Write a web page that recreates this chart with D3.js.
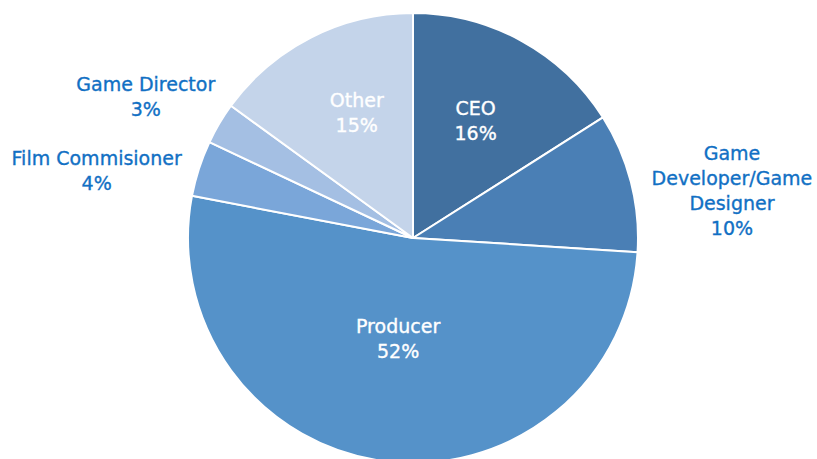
<!DOCTYPE html>
<html>
<head>
<meta charset="utf-8">
<script src="https://cdn.jsdelivr.net/npm/d3@7"></script>
<style>
  html, body { margin: 0; padding: 0; background: #ffffff; }
  svg { display: block; }
</style>
</head>
<body>
<svg id="chart" width="817" height="459"></svg>
<script>
// Job titles and their share of respondents (%), clockwise from 12 o'clock
const categories = ["CEO", "Game Developer/Game Designer", "Producer", "Film Commisioner", "Game Director", "Other"];
const labelLines = [["CEO"], ["Game", "Developer/Game", "Designer"], ["Producer"], ["Film Commisioner"], ["Game Director"], ["Other"]];
const shares = [16, 10, 52, 4, 3, 15];
const sliceColors = ["#41709f", "#4a7fb5", "#5592c9", "#7aa6d9", "#a4bfe3", "#c4d4ea"];

// Label placement: inside (white) or outside (blue), polar radius from centre, pixel nudges
const labelPlacement = [
  { inside: true,  r: 132, dx: -1,  dy: -2 },
  { inside: false, r: 320, dx: 9,   dy: 32 },
  { inside: true,  r: 103, dx: -2,  dy: -2 },
  { inside: false, r: 320, dx: -12, dy: 31 },
  { inside: false, r: 300, dx: -9,  dy: 11 },
  { inside: true,  r: 135, dx: 5,   dy: -5 }
];

const width = 817, height = 459;
const cx = 413, cy = 238, radius = 225;
const lineGap = 25;

const svg = d3.select("#chart");
const g = svg.append("g").attr("transform", `translate(${cx},${cy})`);

const data = categories.map((c, i) => ({ name: c, value: shares[i], lines: labelLines[i], color: sliceColors[i], place: labelPlacement[i] }));

const pie = d3.pie().value(d => d.value).sort(null).startAngle(0).endAngle(2 * Math.PI);
const arc = d3.arc().innerRadius(0).outerRadius(radius);
const arcs = pie(data);

g.selectAll("path.slice")
  .data(arcs)
  .join("path")
  .attr("class", "slice")
  .attr("d", arc)
  .attr("fill", d => d.data.color)
  .attr("stroke", "#ffffff")
  .attr("stroke-width", 2)
  .attr("stroke-linejoin", "round");

g.selectAll("text.label")
  .data(arcs)
  .join("text")
  .attr("class", "label")
  .attr("text-anchor", "middle")
  .attr("font-family", "'DejaVu Sans', Verdana, sans-serif")
  .attr("font-size", 19)
  .attr("fill", d => d.data.place.inside ? "#ffffff" : "#1170c4")
  .attr("stroke", d => d.data.place.inside ? "#ffffff" : "#1170c4")
  .attr("stroke-width", 0.35)
  .each(function (d) {
    const p = d.data.place;
    const mid = (d.startAngle + d.endAngle) / 2;
    const x = Math.sin(mid) * p.r + p.dx;
    const y = -Math.cos(mid) * p.r + p.dy;
    const lines = d.data.lines.concat([d.data.value + "%"]);
    const n = lines.length;
    const t = d3.select(this);
    lines.forEach((ln, i) => {
      t.append("tspan")
        .attr("x", x)
        .attr("y", y + (i - (n - 1) / 2) * lineGap)
        .attr("dominant-baseline", "central")
        .text(ln);
    });
  });
</script>
</body>
</html>
